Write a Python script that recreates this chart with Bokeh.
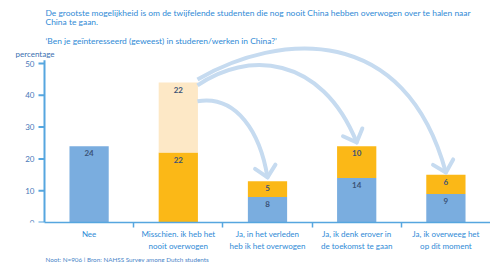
import math
from bokeh.plotting import figure
from bokeh.models import Range1d, FixedTicker, ColumnDataSource, Label, Title
from bokeh.embed import file_html
from bokeh.resources import INLINE
from bokeh.core.properties import value

# ---- data ----
categories = ["Nee",
              "Misschien. ik heb het\nnooit overwogen",
              "Ja, in het verleden\nheb ik het overwogen",
              "Ja, ik denk erover in\nde toekomst te gaan",
              "Ja, ik overweeg het\nop dit moment"]
blue = [24, 0, 8, 14, 9]
yellow = [0, 22, 5, 10, 6]
light = [0, 22, 0, 0, 0]
y_ticks = [0, 10, 20, 30, 40, 50]
y_tick_labels = ["0", "10", "20", "30", "40", "50"]
arrow_source = 1
arrow_targets = [2, 3, 4]

title_1 = "De grootste mogelijkheid is om de twijfelende studenten die nog nooit China hebben overwogen over te halen naar"
title_2 = "China te gaan."
subtitle = "\u2018Ben je ge\u00efnteresseerd (geweest) in studeren/werken in China?\u2019"
y_label = "percentage"
note = "Noot: N=906 | Bron: NAHSS Survey among Dutch students"

# ---- style ----
C_BLUE = "#7aaddf"
C_YELLOW = "#fbb817"
C_LIGHT = "#fde8c6"
C_ARROW = "#c6dbf0"
C_TEXT = "#2f8ad6"
C_AXIS = "#56a6df"
C_TICKLAB = "#4a78b8"
C_VAL = "#3b5377"
FONT = "Lato"
BAR_W = 0.44

FRAME_W, FRAME_H = 490, 222
AXIS_PX = 44           # y-axis position in px from left
PX_PER_Y = 3.18
x = list(range(len(categories)))
x_left = -0.5
x_right = len(categories) - 0.5
x_start = x_left - AXIS_PX * (x_right - x_left) / (FRAME_W - AXIS_PX)
y_top = FRAME_H / PX_PER_Y

p = figure(frame_width=FRAME_W, frame_height=FRAME_H, x_range=Range1d(x_start, x_right),
           y_range=Range1d(0, y_top), output_backend="svg", toolbar_location=None,
           min_border_left=0, min_border_right=0, min_border_top=0, min_border_bottom=0)
p.outline_line_color = None
p.xgrid.visible = False
p.ygrid.visible = False
p.yaxis.visible = False
p.background_fill_color = "white"
p.border_fill_color = "white"

src = ColumnDataSource(dict(x=x, blue=blue, yellow=yellow, light=light))
p.vbar_stack(["blue", "yellow", "light"], x="x", width=BAR_W, source=src,
             color=[C_BLUE, C_YELLOW, C_LIGHT], line_color=None)

# value labels
lx, ly, lt = [], [], []
for i in x:
    base = 0
    for seg in (blue, yellow, light):
        v = seg[i]
        if v > 0:
            lx.append(i); ly.append(base + v); lt.append(str(v))
        base += v
p.text(x=lx, y=ly, text=lt, text_font=value(FONT), text_font_size="8px",
       text_font_style="bold", text_color=C_VAL, text_align="center",
       text_baseline="top", y_offset=4)

# curved arrows from the "Misschien" bar to the three "Ja" bars
# (start dy from source top, c0 offset from start, c1 offset from tip, tip dy, head angle deg)
totals = [b + y + l for b, y, l in zip(blue, yellow, light)]
arrow_shape = [(-5.9, (0.442, 2.1), (-0.081, 13.9), 1.2, 102),
               (-0.9, (0.551, 10.8), (-0.399, 27.7), 1.2, 112),
               (1.0, (0.923, 14.9), (-0.456, 47.1), 0.7, 105)]
sx = arrow_source + BAR_W / 2 - 0.005
HEAD_HALF = 44
for (sdy, (c0x, c0y), (c1x, c1y), tdy, ha), t in zip(arrow_shape, arrow_targets):
    sy = totals[arrow_source] + sdy
    ex, ey = t, totals[t] + tdy
    p.bezier(x0=[sx], y0=[sy], x1=[ex], y1=[ey],
             cx0=[sx + c0x], cy0=[sy + c0y], cx1=[ex + c1x], cy1=[ey + c1y],
             line_color=C_ARROW, line_width=4)
    p.ray(x=[ex, ex], y=[ey, ey], length=15, length_units="screen",
          angle=[ha - HEAD_HALF, ha + HEAD_HALF], angle_units="deg",
          line_color=C_ARROW, line_width=4, line_cap="round")

# y axis (drawn in the frame so the 'percentage' label can sit to its left)
p.segment(x0=[x_left], y0=[0], x1=[x_left], y1=[51], line_color=C_AXIS, line_width=2)
p.ray(x=[x_left] * len(y_ticks), y=y_ticks, length=6, length_units="screen",
      angle=math.pi, line_color=C_AXIS, line_width=2)
p.text(x=[x_left] * len(y_ticks), y=y_ticks, text=y_tick_labels, x_offset=-10,
       text_font=value(FONT), text_font_size="8px", text_color=C_TICKLAB,
       text_align="right", text_baseline="middle")

# x axis
xa = p.xaxis[0]
xa.bounds = (x_left, x_right)
xa.ticker = FixedTicker(ticks=x, minor_ticks=[i + 0.5 for i in x[:-1]])
xa.major_label_overrides = {i: c for i, c in zip(x, categories)}
xa.axis_line_color = C_AXIS
xa.axis_line_width = 1.5
xa.major_tick_line_color = None
xa.major_tick_out = 0
xa.minor_tick_line_color = C_AXIS
xa.minor_tick_line_width = 1.5
xa.minor_tick_out = 5
xa.minor_tick_in = 0
xa.major_label_text_color = C_TEXT
xa.major_label_text_font = FONT
xa.major_label_text_font_size = "8px"
xa.major_label_standoff = 1

# titles as labels
for txt, yy, xo, fs, col in [(title_1, 66.0, 1, "8.45px", C_TEXT),
                             (title_2, 63.2, 1, "8.45px", C_TEXT),
                             (subtitle, 57.2, 1, "8.45px", C_TEXT),
                             (y_label, 53.1, -29, "8px", "#3a6fb0")]:
    p.add_layout(Label(x=x_left, y=yy, x_offset=xo, text=txt, text_font=FONT,
                       text_font_size=fs, text_color=col, text_baseline="middle"))

p.add_layout(Title(text=note, align="left", text_font=FONT, text_font_size="6.3px",
                   text_color="#4a86c8", text_font_style="normal", offset=AXIS_PX + 1,
                   standoff=0), "below")

open("out.html", "w").write(file_html(p, INLINE))
